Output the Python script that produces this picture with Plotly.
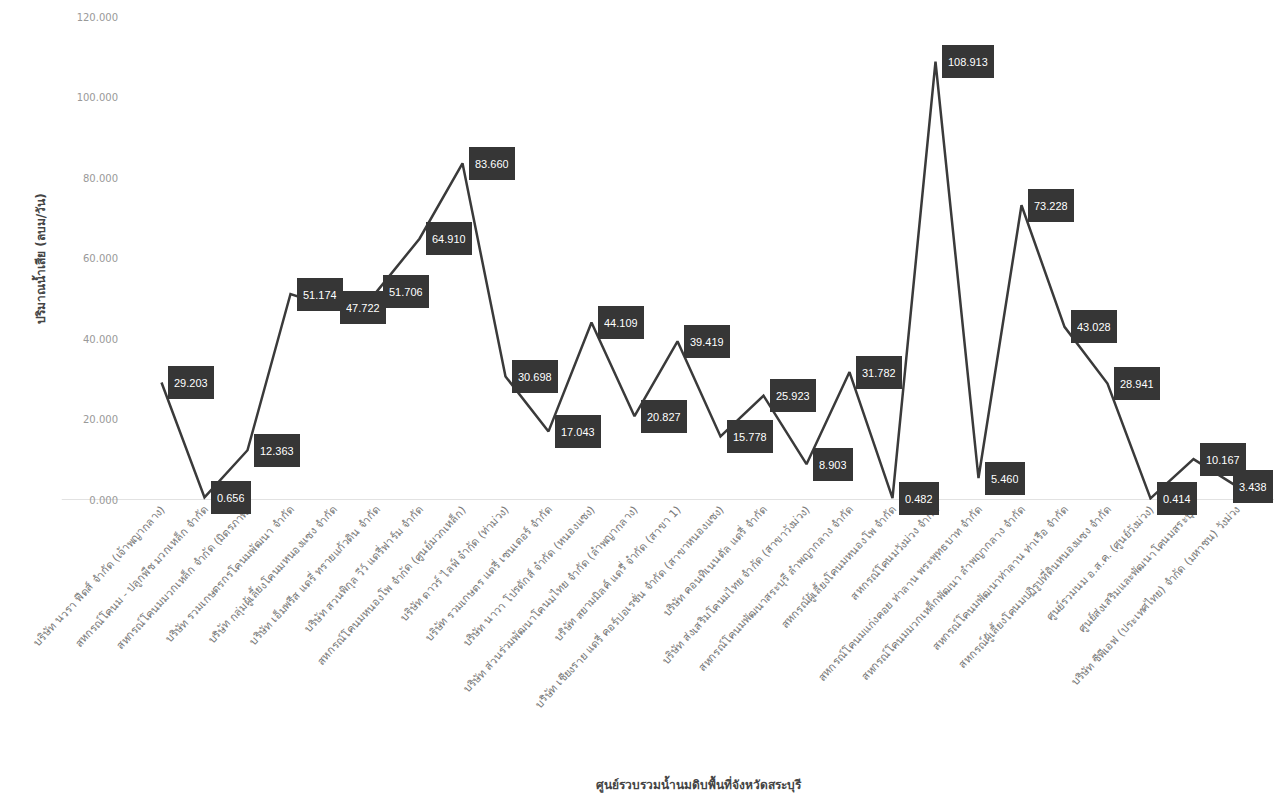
import plotly.graph_objects as go

centers = [
    "บริษัท นวรา ฟีดส์ จำกัด (เจ้าพญากลาง)",
    "สหกรณ์โคนม - ปลูกพืช มวกเหล็ก จำกัด",
    "สหกรณ์โคนมมวกเหล็ก จำกัด (มิตรภาพ)",
    "บริษัท รวมเกษตรกรโคนมพัฒนา จำกัด",
    "บริษัท กลุ่มผู้เลี้ยงโคนมหนองแซง จำกัด",
    "บริษัท เอ็มพรีส แดรี่ ทรายแก้วดิน จำกัด",
    "บริษัท สวนพิกุล วีว์ แดรี่ฟาร์ม จำกัด",
    "สหกรณ์โคนมหนองโพ จำกัด (ศูนย์มวกเหล็ก)",
    "บริษัท ดาวร์ ไลฟ์ จำกัด (ท่าม่วง)",
    "บริษัท รวมเกษตร แดรี่ เซนเตอร์ จำกัด",
    "บริษัท นาวา โปรดักส์ จำกัด (หนองแซง)",
    "บริษัท ส่วนร่วมพัฒนาโคนมไทย จำกัด (ลำพญากลาง)",
    "บริษัท สยามมิลค์ แดรี่ จำกัด (สาขา 1)",
    "บริษัท เชียงราย แดรี่ คอร์ปอเรชั่น จำกัด (สาขาหนองแซง)",
    "บริษัท คอนทิเนนตัล แดรี่ จำกัด",
    "บริษัท ส่งเสริมโคนมไทย จำกัด (สาขาวังม่วง)",
    "สหกรณ์โคนมพัฒนาสระบุรี ลำพญากลาง จำกัด",
    "สหกรณ์ผู้เลี้ยงโคนมหนองโพ จำกัด",
    "สหกรณ์โคนมวังม่วง จำกัด",
    "สหกรณ์โคนมแก่งคอย ท่าลาน พระพุทธบาท จำกัด",
    "สหกรณ์โคนมมวกเหล็กพัฒนา ลำพญากลาง จำกัด",
    "สหกรณ์โคนมพัฒนาท่าลาน ท่าเรือ จำกัด",
    "สหกรณ์ผู้เลี้ยงโคนมปฏิรูปที่ดินหนองแซง จำกัด",
    "ศูนย์รวมนม อ.ส.ค. (ศูนย์วังม่วง)",
    "ศูนย์ส่งเสริมและพัฒนาโคนมสระบุรี",
    "บริษัท ซีพีเอฟ (ประเทศไทย) จำกัด (มหาชน) วังม่วง",
]

wastewater = [
    29.203, 0.656, 12.363, 51.174, 47.722, 51.706, 64.910, 83.660,
    30.698, 17.043, 44.109, 20.827, 39.419, 15.778, 25.923, 8.903,
    31.782, 0.482, 108.913, 5.460, 73.228, 43.028, 28.941, 0.414,
    10.167, 3.438,
]

y_ticks = [0, 20, 40, 60, 80, 100, 120]

fig = go.Figure()
fig.add_trace(go.Scatter(
    x=centers, y=wastewater, mode="lines",
    line=dict(color="#3a3a3a", width=2.5),
    cliponaxis=False, showlegend=False,
))

n = len(centers)
for i, (c, v) in enumerate(zip(centers, wastewater)):
    fig.add_annotation(
        x=c, y=v, xref="x", yref="y", text=f"{v:.3f}",
        showarrow=False, xanchor="left", yanchor="middle",
        xshift=6 if i < n - 1 else -4,
        height=21,
        bgcolor="#363636", bordercolor="#363636", borderpad=5,
        font=dict(color="white", size=11, family="Liberation Sans, Arial, sans-serif"),
    )

fig.add_shape(type="line", xref="paper", yref="y", x0=-0.07, x1=1.02, y0=0, y1=0,
              line=dict(color="#d8d8d8", width=1.5), layer="below")

fig.add_annotation(
    xref="paper", yref="paper", x=-0.09, y=0.5, text="<b>ปริมาณน้ำเสีย (ลบม/วัน)</b>",
    textangle=-90, showarrow=False, xanchor="center", yanchor="middle",
    font=dict(size=12, color="#444"),
)
fig.add_annotation(
    xref="paper", yref="paper", x=0.5, y=0, yshift=-284,
    text="<b>ศูนย์รวบรวมน้ำนมดิบพื้นที่จังหวัดสระบุรี</b>",
    showarrow=False, xanchor="center", yanchor="middle",
    font=dict(size=12, color="#444"),
)

fig.update_layout(
    width=1274, height=792,
    margin=dict(l=132, r=24, t=9, b=300),
    paper_bgcolor="white", plot_bgcolor="white",
    font=dict(family="Tahoma, DejaVu Sans, sans-serif"),
    xaxis=dict(
        type="category", tickangle=-47, showgrid=False, showline=False,
        zeroline=False, tickfont=dict(size=11, color="#777"),
        ticks="", automargin=False, range=[-0.5, n - 0.5],
    ),
    yaxis=dict(
        range=[0, 120], tickvals=y_ticks, tickformat=".3f",
        showgrid=False, zeroline=False, showline=False,
        tickfont=dict(size=10, color="#999"), ticks="",
        ticklabelstandoff=21, automargin=False,
    ),
)

fig.write_html("out.html")
